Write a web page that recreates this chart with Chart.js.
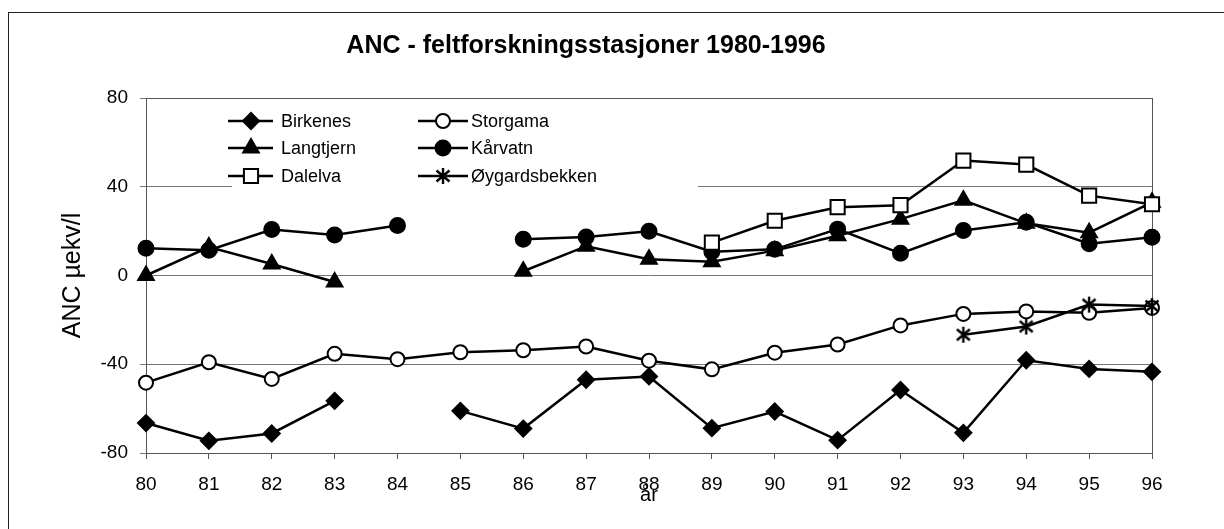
<!DOCTYPE html>
<html lang="no">
<head>
  <meta charset="UTF-8" />
  <title>ANC - feltforskningsstasjoner 1980-1996</title>
  <script src="https://cdn.jsdelivr.net/npm/chart.js"></script>
  <style>
    html, body { margin: 0; padding: 0; background: #fff; overflow: hidden; }
    #frame { position: absolute; left: 8px; top: 12px; width: 1240px; height: 540px; border: 1.5px solid #222; }
    #wrap { position: absolute; left: 0; top: 0; width: 1224px; height: 529px; }
  </style>
</head>
<body>
<div id="frame"></div>
<div id="wrap"><canvas id="ancChart" width="1224" height="529"></canvas></div>

<script>
  // årstall (x-akse)
  const years = ['80', '81', '82', '83', '84', '85', '86', '87', '88', '89', '90', '91', '92', '93', '94', '95', '96'];

  // ANC i µekv/l per stasjon, null = ingen måling
  const birkenes = [-66.5, -74.5, -71.2, -56.5, null, -61, -69, -47, -45.5, -68.8, -61.3, -74.2, -51.6, -70.9, -38.2, -42.1, -43.4];
  const langtjern = [0, 12.8, 5.2, -2.9, null, null, 1.9, 13.2, 7.3, 6.2, 11.2, 17.9, 25.4, 33.9, 23.5, 19.3, 33];
  const dalelva = [null, null, null, null, null, null, null, null, null, 14.8, 24.7, 30.8, 31.7, 51.8, 50, 36, 32.1];
  const storgama = [-48.3, -39.1, -46.6, -35.3, -37.7, -34.6, -33.7, -32, -38.4, -42.3, -34.8, -31.1, -22.5, -17.3, -16.2, -16.8, -14.6];
  const kaarvatn = [12.3, 11.4, 20.7, 18.3, 22.5, null, 16.3, 17.3, 19.9, 10.7, 11.8, 20.9, 10, 20.3, 24, 14.3, 17.2];
  const oygard = [null, null, null, null, null, null, null, null, null, null, null, null, null, -26.7, -23, -13.1, -13.8];

  const yTicks = [-80, -40, 0, 40, 80];

  const FONT = 'Arial, "Liberation Sans", sans-serif';

  // stjerne-symbol (loddrett strek + kryss)
  const asterisk = document.createElement('canvas');
  asterisk.width = 18;
  asterisk.height = 18;
  (function () {
    const g = asterisk.getContext('2d');
    g.strokeStyle = '#000';
    g.lineWidth = 2.4;
    g.lineCap = 'butt';
    g.beginPath();
    g.moveTo(9, 1); g.lineTo(9, 17);
    g.moveTo(2.5, 3.5); g.lineTo(15.5, 14.5);
    g.moveTo(15.5, 3.5); g.lineTo(2.5, 14.5);
    g.stroke();
  })();

  function serie(label, data, style, radius, filled, order) {
    return {
      label: label,
      data: data,
      order: order,
      borderColor: '#000',
      borderWidth: 2.5,
      pointStyle: style,
      pointRadius: radius,
      pointHoverRadius: radius,
      pointBackgroundColor: filled ? '#000' : '#fff',
      pointBorderColor: '#000',
      pointBorderWidth: 2,
      tension: 0,
      spanGaps: false
    };
  }

  // ramme rundt plottområdet (topp og høyre side)
  const plotBox = {
    id: 'plotBox',
    beforeDatasetsDraw(chart) {
      const a = chart.chartArea, ctx = chart.ctx;
      ctx.save();
      ctx.strokeStyle = '#555';
      ctx.lineWidth = 1;
      ctx.strokeRect(a.left + 0.5, a.top + 0.5, a.right - a.left, a.bottom - a.top);
      ctx.restore();
    }
  };

  // forklaring i to kolonner, med linje + symbol
  const boxLegend = {
    id: 'boxLegend',
    afterDraw(chart) {
      const ctx = chart.ctx;
      const cols = [{ x1: 228, x2: 273, m: 251, t: 281 }, { x1: 418, x2: 468, m: 443, t: 471 }];
      const rows = [121, 148, 176];
      ctx.save();
      ctx.fillStyle = '#fff';
      ctx.fillRect(232, 101, 466, 92);
      chart.data.datasets.forEach((ds, i) => {
        const c = cols[Math.floor(i / 3)], y = rows[i % 3];
        ctx.strokeStyle = '#000';
        ctx.lineWidth = 2.5;
        ctx.beginPath();
        ctx.moveTo(c.x1, y);
        ctx.lineTo(c.x2, y);
        ctx.stroke();
        ctx.fillStyle = ds.pointBackgroundColor;
        ctx.strokeStyle = '#000';
        ctx.lineWidth = ds.pointBorderWidth;
        Chart.helpers.drawPoint(ctx, {
          pointStyle: ds.pointStyle,
          radius: ds.pointRadius,
          rotation: 0,
          borderWidth: ds.pointBorderWidth
        }, c.m, y);
        ctx.fillStyle = '#000';
        ctx.font = '18px ' + FONT;
        ctx.textBaseline = 'middle';
        ctx.fillText(ds.label, c.t, y + 1);
      });
      ctx.restore();
    }
  };

  new Chart(document.getElementById('ancChart'), {
    type: 'line',
    data: {
      labels: years,
      datasets: [
        serie('Birkenes', birkenes, 'rectRot', 8, true, 1),
        serie('Langtjern', langtjern, 'triangle', 9, true, 1),
        serie('Dalelva', dalelva, 'rect', 10, false, 0),
        serie('Storgama', storgama, 'circle', 7, false, 1),
        serie('Kårvatn', kaarvatn, 'circle', 7.5, true, 1),
        serie('Øygardsbekken', oygard, asterisk, 9, false, 0)
      ]
    },
    options: {
      responsive: false,
      animation: false,
      events: [],
      layout: { padding: { left: 20, right: 72, top: 0, bottom: 0 } },
      plugins: {
        legend: { display: false },
        tooltip: { enabled: false },
        title: {
          display: true,
          text: 'ANC - feltforskningsstasjoner 1980-1996',
          color: '#000',
          font: { family: FONT, size: 25, weight: 'bold' },
          padding: { top: 31, bottom: 37 }
        }
      },
      scales: {
        x: {
          type: 'category',
          offset: false,
          grid: { drawOnChartArea: false, drawTicks: true, tickLength: 6, color: '#555' },
          border: { color: '#555', width: 1 },
          ticks: { color: '#000', font: { family: FONT, size: 19 }, padding: 14, maxRotation: 0, autoSkip: false },
          title: { display: true, text: 'år', color: '#000', font: { family: FONT, size: 20 }, padding: { top: 0, bottom: 22 } },
          afterFit(scale) { scale.height = 76; }
        },
        y: {
          min: -80,
          max: 80,
          afterBuildTicks(scale) { scale.ticks = yTicks.map(v => ({ value: v })); },
          grid: { color: '#777', lineWidth: 1, tickLength: 6, drawTicks: true },
          border: { color: '#555', width: 1 },
          ticks: { color: '#000', font: { family: FONT, size: 19 }, padding: 12 },
          title: { display: true, text: 'ANC µekv/l', color: '#000', font: { family: FONT, size: 25 }, padding: { top: 38, bottom: 0 } },
          afterFit(scale) { scale.width = 126; }
        }
      }
    },
    plugins: [plotBox, boxLegend]
  });
</script>
</body>
</html>
